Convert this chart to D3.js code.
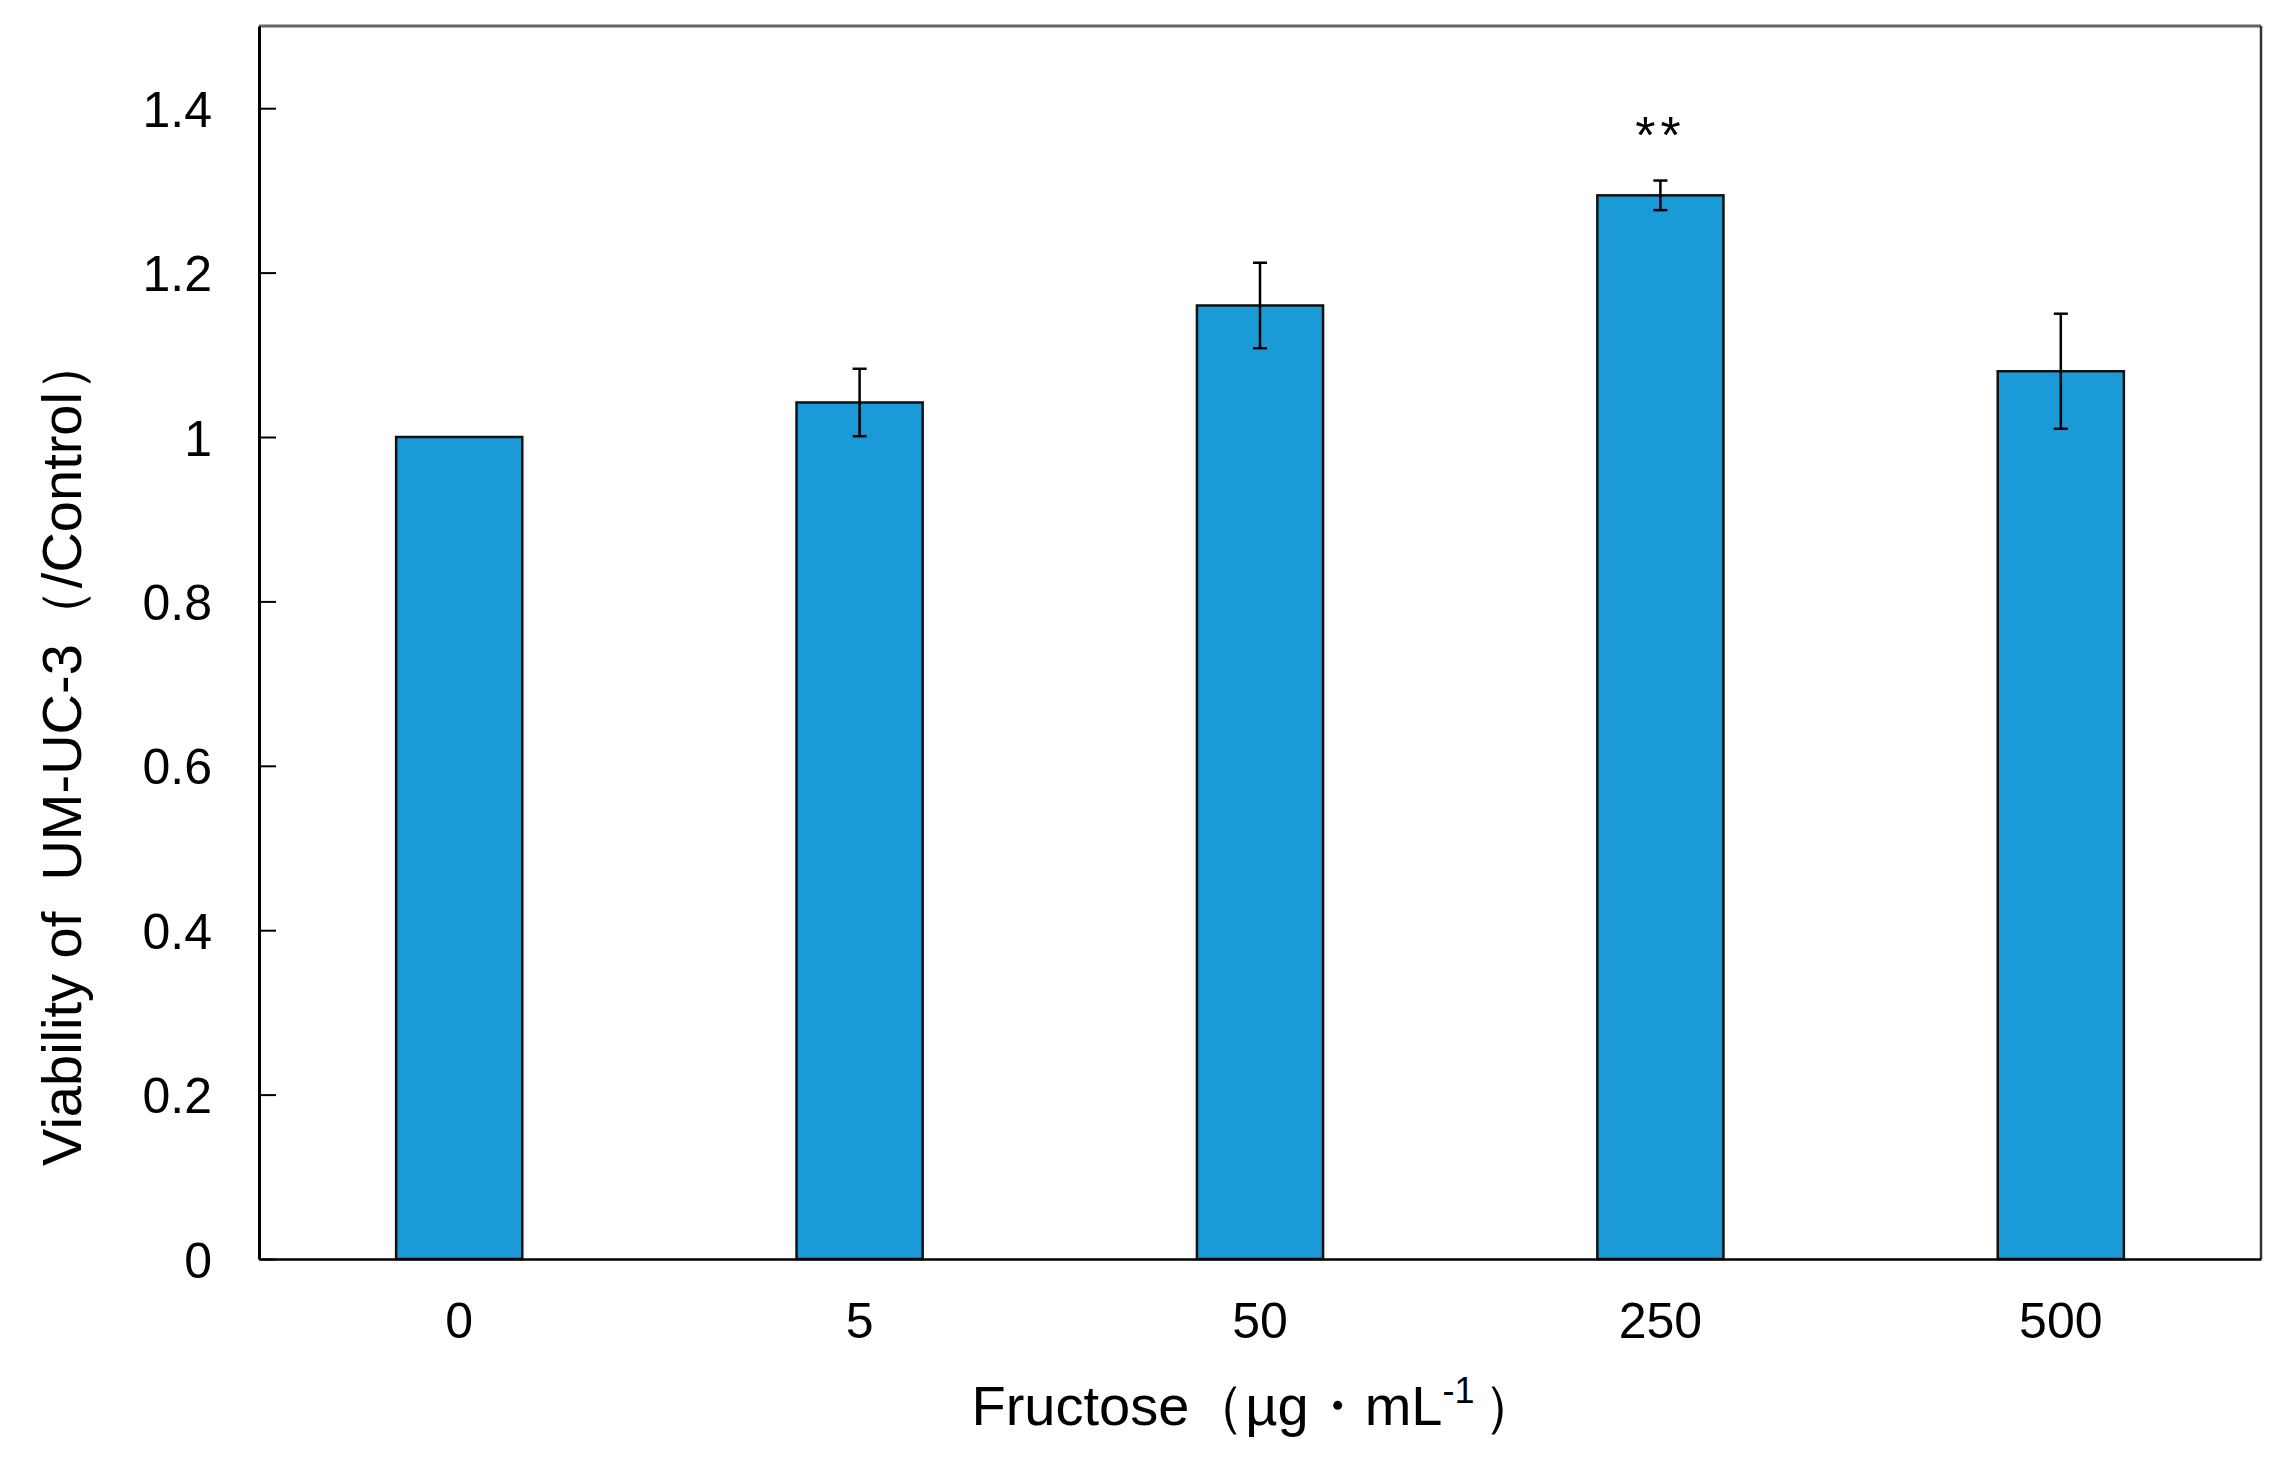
<!DOCTYPE html>
<html>
<head>
<meta charset="utf-8">
<script src="https://cdn.jsdelivr.net/npm/d3@7"></script>
<style>
  body { margin: 0; background: #fff; }
  text { font-family: "Liberation Sans", Arial, sans-serif; fill: #000; }
</style>
</head>
<body>
<svg id="chart" width="2278" height="1458"></svg>
<script>
// data
const doses = ['0', '5', '50', '250', '500'];
const viability = [1.0, 1.042, 1.160, 1.294, 1.080];
const errors = [0.0, 0.041, 0.052, 0.018, 0.070];
const marks = ['', '', '', '**', ''];
const yTicks = [0, 0.2, 0.4, 0.6, 0.8, 1, 1.2, 1.4];
const yTickLabels = ['0', '0.2', '0.4', '0.6', '0.8', '1', '1.2', '1.4'];

const margin = { top: 26, right: 17, bottom: 199, left: 259 };
const W = 2278, H = 1458;
const w = W - margin.left - margin.right;
const h = H - margin.top - margin.bottom;

const svg = d3.select('#chart');
const g = svg.append('g').attr('transform', `translate(${margin.left},${margin.top})`);

const x = d3.scaleBand().domain(doses).range([0, w]).paddingInner(0.685).paddingOuter(0.3425);
const y = d3.scaleLinear().domain([0, 1.5]).range([h, 0]);

// top and right frame (grey)
g.append('line').attr('x1', 0).attr('x2', w).attr('y1', 0).attr('y2', 0)
  .attr('stroke', '#666').attr('stroke-width', 3);
g.append('line').attr('x1', w).attr('x2', w).attr('y1', 0).attr('y2', h)
  .attr('stroke', '#333').attr('stroke-width', 2.5);

// bars
g.selectAll('rect.bar').data(doses).join('rect')
  .attr('class', 'bar')
  .attr('x', d => x(d))
  .attr('width', x.bandwidth())
  .attr('y', (d, i) => y(viability[i]))
  .attr('height', (d, i) => h - y(viability[i]))
  .attr('fill', '#1a9bd7')
  .attr('stroke', '#111')
  .attr('stroke-width', 2.5);

// error bars
const cap = 7;
const eb = g.selectAll('g.err').data(doses.filter((d, i) => errors[i] > 0)).join('g').attr('class', 'err');
eb.each(function(d) {
  const i = doses.indexOf(d);
  const cx = x(d) + x.bandwidth() / 2;
  const y1 = y(viability[i] + errors[i]);
  const y2 = y(viability[i] - errors[i]);
  const s = d3.select(this);
  s.append('line').attr('x1', cx).attr('x2', cx).attr('y1', y1).attr('y2', y2);
  s.append('line').attr('x1', cx - cap).attr('x2', cx + cap).attr('y1', y1).attr('y2', y1);
  s.append('line').attr('x1', cx - cap).attr('x2', cx + cap).attr('y1', y2).attr('y2', y2);
});
eb.selectAll('line').attr('stroke', '#000').attr('stroke-width', 2.5);

// significance marks
g.selectAll('text.sig').data(doses.filter((d, i) => marks[i])).join('text')
  .attr('class', 'sig')
  .attr('x', d => x(d) + x.bandwidth() / 2)
  .attr('y', d => { const i = doses.indexOf(d); return y(viability[i] + errors[i]) - 28; })
  .attr('text-anchor', 'middle')
  .attr('font-size', 52)
  .attr('letter-spacing', 5)
  .attr('fill', '#333')
  .text(d => marks[doses.indexOf(d)]);

// y axis, ticks pointing inward
const yAxis = g.append('g')
  .call(d3.axisLeft(y).tickValues(yTicks).tickFormat((d, i) => yTickLabels[i])
    .tickSizeInner(-17).tickSizeOuter(0).tickPadding(47));
yAxis.select('.domain').attr('stroke', '#000').attr('stroke-width', 3);
yAxis.selectAll('.tick line').attr('stroke', '#000').attr('stroke-width', 2);
yAxis.selectAll('.tick text').attr('font-size', 50).attr('dy', '0.36em')
  .style('font-family', '"Liberation Sans", Arial, sans-serif');

// x axis, no ticks
const xAxis = g.append('g').attr('transform', `translate(0,${h})`)
  .call(d3.axisBottom(x).tickSize(0).tickPadding(43));
xAxis.select('.domain').attr('stroke', '#000').attr('stroke-width', 2.5);
xAxis.selectAll('.tick text').attr('font-size', 50).attr('dy', '0.71em')
  .style('font-family', '"Liberation Sans", Arial, sans-serif');

// axis titles
const xt = svg.append('text')
  .attr('x', 1255).attr('y', 1425)
  .attr('text-anchor', 'middle')
  .attr('font-size', 56);
xt.append('tspan').text('Fructose（µg・mL');
xt.append('tspan').attr('font-size', 36).attr('dy', -22).text('-1');
xt.append('tspan').attr('dy', 22).attr('dx', 8).text('）');

svg.append('text')
  .attr('transform', 'translate(81,751) rotate(-90)')
  .attr('text-anchor', 'middle')
  .attr('font-size', 56)
  .text('Viability of\u00a0\u00a0UM-UC-3（/Control）');
</script>
</body>
</html>
